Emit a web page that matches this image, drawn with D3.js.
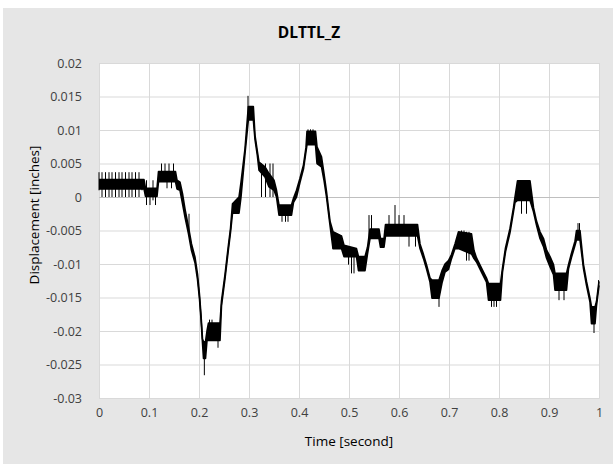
<!DOCTYPE html>
<html><head><meta charset="utf-8">
<script src="https://cdn.jsdelivr.net/npm/d3@7/dist/d3.min.js"></script>
<style>body{margin:0;background:#fff}</style>
</head><body>
<svg id="c" width="613" height="464"></svg>
<script>
const title = "DLTTL_Z";
const xTitle = "Time [second]";
const yTitle = "Displacement [inches]";
const xTicks = [0,0.1,0.2,0.3,0.4,0.5,0.6,0.7,0.8,0.9,1];
const xTickLabels = ["0","0.1","0.2","0.3","0.4","0.5","0.6","0.7","0.8","0.9","1"];
const yTicks = [-0.03,-0.025,-0.02,-0.015,-0.01,-0.005,0,0.005,0.01,0.015,0.02];
const yTickLabels = ["-0.03","-0.025","-0.02","-0.015","-0.01","-0.005","0","0.005","0.01","0.015","0.02"];

// envelope of the noisy signal (time, lower, upper)
const time = [0,0.09,0.093,0.116,0.119,0.153,0.156,0.162,0.167,0.172,0.179,0.185,0.192,0.197,0.201,0.204,0.207,0.209,0.213,0.216,0.219,0.242,0.245,0.252,0.259,0.263,0.267,0.28,0.284,0.292,0.2987,0.3087,0.312,0.3167,0.32,0.332,0.34,0.35,0.355,0.36,0.385,0.389,0.395,0.402,0.409,0.414,0.416,0.433,0.436,0.445,0.45,0.455,0.462,0.468,0.485,0.49,0.515,0.519,0.532,0.537,0.542,0.56,0.563,0.57,0.573,0.637,0.642,0.649,0.655,0.662,0.666,0.68,0.686,0.692,0.699,0.705,0.712,0.719,0.745,0.75,0.755,0.765,0.775,0.779,0.803,0.807,0.813,0.822,0.829,0.832,0.837,0.862,0.869,0.875,0.882,0.889,0.895,0.902,0.909,0.912,0.935,0.939,0.945,0.952,0.955,0.962,0.969,0.975,0.982,0.985,0.992,0.995,1.0];
const lower = [0.0012,0.0012,0.0001,0.0001,0.0023,0.0023,0.0012,0.0010,-0.0010,-0.0030,-0.0055,-0.0080,-0.0098,-0.0123,-0.0152,-0.0182,-0.0218,-0.0241,-0.0241,-0.0214,-0.0214,-0.0214,-0.0162,-0.0122,-0.0077,-0.0053,-0.0024,-0.0024,0.0000,0.0065,0.0115,0.0115,0.0086,0.0062,0.0040,0.0030,0.0015,0.0010,0.0000,-0.0027,-0.0027,-0.0008,0.0000,0.0022,0.0042,0.0068,0.0078,0.0078,0.0050,0.0045,0.0025,0.0000,-0.0042,-0.0077,-0.0077,-0.0089,-0.0089,-0.0110,-0.0110,-0.0085,-0.0062,-0.0062,-0.0075,-0.0075,-0.0058,-0.0058,-0.0077,-0.0092,-0.0107,-0.0127,-0.0151,-0.0151,-0.0128,-0.0112,-0.0108,-0.0092,-0.0077,-0.0077,-0.0085,-0.0092,-0.0097,-0.0112,-0.0127,-0.0154,-0.0154,-0.0112,-0.0082,-0.0053,-0.0022,-0.0008,-0.0005,-0.0005,-0.0022,-0.0042,-0.0062,-0.0074,-0.0091,-0.0104,-0.0116,-0.0139,-0.0139,-0.0107,-0.0090,-0.0072,-0.0064,-0.0064,-0.0107,-0.0132,-0.0157,-0.0189,-0.0189,-0.0162,-0.0132];
const upper = [0.0026,0.0026,0.0013,0.0013,0.0038,0.0038,0.0025,0.0022,0.0005,-0.0018,-0.0045,-0.0070,-0.0090,-0.0115,-0.0146,-0.0176,-0.0212,-0.0216,-0.0216,-0.0200,-0.0188,-0.0188,-0.0155,-0.0116,-0.0071,-0.0047,-0.0010,0.0000,0.0022,0.0072,0.0135,0.0135,0.0092,0.0068,0.0052,0.0045,0.0035,0.0025,0.0010,-0.0012,-0.0012,-0.0002,0.0010,0.0028,0.0048,0.0074,0.0098,0.0098,0.0075,0.0060,0.0035,0.0008,-0.0036,-0.0052,-0.0058,-0.0072,-0.0077,-0.0089,-0.0089,-0.0075,-0.0048,-0.0048,-0.0062,-0.0062,-0.0041,-0.0041,-0.0070,-0.0086,-0.0101,-0.0121,-0.0124,-0.0124,-0.0110,-0.0100,-0.0095,-0.0086,-0.0070,-0.0052,-0.0055,-0.0080,-0.0091,-0.0106,-0.0121,-0.0129,-0.0129,-0.0106,-0.0076,-0.0047,-0.0016,0.0000,0.0024,0.0024,-0.0016,-0.0036,-0.0052,-0.0062,-0.0079,-0.0089,-0.0101,-0.0114,-0.0114,-0.0101,-0.0084,-0.0066,-0.0050,-0.0050,-0.0101,-0.0126,-0.0151,-0.0164,-0.0164,-0.0156,-0.0126];

// isolated noise spikes (time, low, high)
const spikeTime = [0.000,0.006,0.013,0.020,0.026,0.033,0.040,0.046,0.053,0.060,0.066,0.073,0.080,0.086,0.095,0.102,0.108,0.113,0.125,0.132,0.136,0.140,0.145,0.149,0.180,0.2107,0.221,0.226,0.238,0.298,0.325,0.333,0.342,0.348,0.366,0.373,0.378,0.418,0.423,0.428,0.468,0.499,0.505,0.510,0.540,0.545,0.580,0.592,0.600,0.610,0.620,0.633,0.680,0.725,0.730,0.735,0.740,0.785,0.790,0.795,0.845,0.855,0.920,0.930,0.958,0.961,0.990,0.999];
const spikeLow = [0.0010,0.0000,0.0000,0.0000,0.0000,0.0000,0.0000,0.0000,0.0000,0.0000,0.0000,0.0000,0.0000,0.0010,-0.0012,-0.0012,-0.0005,-0.0012,0.0023,0.0023,0.0013,0.0023,0.0013,0.0023,-0.0050,-0.0266,-0.0214,-0.0214,-0.0225,0.0115,0.0000,0.0000,0.0000,0.0000,-0.0037,-0.0037,-0.0037,0.0078,0.0078,0.0078,-0.0077,-0.0101,-0.0114,-0.0114,-0.0062,-0.0062,-0.0058,-0.0058,-0.0058,-0.0058,-0.0074,-0.0074,-0.0164,-0.0077,-0.0077,-0.0095,-0.0095,-0.0164,-0.0164,-0.0164,-0.0025,-0.0025,-0.0154,-0.0154,-0.0064,-0.0064,-0.0203,-0.0132];
const spikeHigh = [0.0037,0.0037,0.0037,0.0037,0.0037,0.0037,0.0037,0.0037,0.0037,0.0037,0.0037,0.0037,0.0037,0.0026,0.0025,0.0013,0.0025,0.0013,0.0050,0.0050,0.0038,0.0050,0.0038,0.0050,-0.0025,-0.0216,-0.0183,-0.0183,-0.0188,0.0151,0.0050,0.0050,0.0050,0.0050,-0.0012,-0.0012,-0.0012,0.0101,0.0101,0.0101,-0.0053,-0.0077,-0.0089,-0.0089,-0.0027,-0.0027,-0.0027,-0.0012,-0.0027,-0.0027,-0.0041,-0.0041,-0.0124,-0.0050,-0.0050,-0.0052,-0.0052,-0.0129,-0.0129,-0.0129,0.0024,0.0024,-0.0114,-0.0114,-0.0039,-0.0039,-0.0164,-0.0124];

const W = 613, H = 464;
const m = {left: 99, right: 599, top: 63, bottom: 398};
const svg = d3.select("#c");
const FONT = "'Open Sans', 'Noto Sans', sans-serif";

svg.append("rect").attr("x", 3).attr("y", 8).attr("width", W - 3).attr("height", H - 8).attr("fill", "#e6e6e6");

const x = d3.scaleLinear().domain([0, 1]).range([m.left, m.right]);
const y = d3.scaleLinear().domain([-0.03, 0.02]).range([m.bottom, m.top]);

svg.append("rect").attr("x", m.left).attr("y", m.top).attr("width", m.right - m.left).attr("height", m.bottom - m.top).attr("fill", "#fff");

// gridlines
const gx = svg.append("g").attr("transform", `translate(0,${m.bottom})`)
  .call(d3.axisBottom(x).tickValues(xTicks).tickSize(-(m.bottom - m.top)).tickFormat((d, i) => xTickLabels[i]).tickPadding(10));
gx.select(".domain").attr("stroke", "#d9d9d9");
gx.selectAll(".tick line").attr("stroke", "#d9d9d9").attr("stroke-width", 1);
gx.selectAll(".tick text").attr("font-family", FONT).attr("font-size", 12.5).attr("fill", "#404040").attr("dy", "0.71em");

const gy = svg.append("g").attr("transform", `translate(${m.left},0)`)
  .call(d3.axisLeft(y).tickValues(yTicks).tickSize(-(m.right - m.left)).tickFormat((d, i) => yTickLabels[i]).tickPadding(17));
gy.select(".domain").attr("stroke", "#d9d9d9");
gy.selectAll(".tick line").attr("stroke", d => d === 0 ? "#bfbfbf" : "#d9d9d9").attr("stroke-width", 1);
gy.selectAll(".tick text").attr("font-family", FONT).attr("font-size", 12.5).attr("fill", "#404040");

// data
const env = time.map((t, i) => ({t, lo: lower[i], hi: upper[i]}));
const plot = svg.append("g");
plot.append("path").datum(env)
  .attr("d", d3.area().x(d => x(d.t)).y0(d => y(d.lo)).y1(d => y(d.hi)))
  .attr("fill", "#000");
["lo", "hi"].forEach(k => {
  plot.append("path").datum(env)
    .attr("d", d3.line().x(d => x(d.t)).y(d => y(d[k])))
    .attr("fill", "none").attr("stroke", "#000").attr("stroke-width", 1.6).attr("stroke-linejoin", "round");
});
plot.selectAll("line.spike").data(spikeTime.map((t, i) => ({t, lo: spikeLow[i], hi: spikeHigh[i]})))
  .join("line").attr("class", "spike")
  .attr("x1", d => x(d.t)).attr("x2", d => x(d.t))
  .attr("y1", d => y(d.lo)).attr("y2", d => y(d.hi))
  .attr("stroke", "#000").attr("stroke-width", 1);

// titles
svg.append("text").attr("x", 309).attr("y", 38).attr("text-anchor", "middle")
  .attr("font-family", FONT).attr("font-weight", "bold").attr("font-size", 15.5).attr("fill", "#000").text(title);
svg.append("text").attr("x", 349).attr("y", 446).attr("text-anchor", "middle")
  .attr("font-family", FONT).attr("font-size", 13.5).attr("fill", "#000").text(xTitle);
svg.append("text").attr("transform", "translate(39,215) rotate(-90)").attr("text-anchor", "middle")
  .attr("font-family", FONT).attr("font-size", 13.5).attr("fill", "#000").text(yTitle);
</script>
</body></html>
